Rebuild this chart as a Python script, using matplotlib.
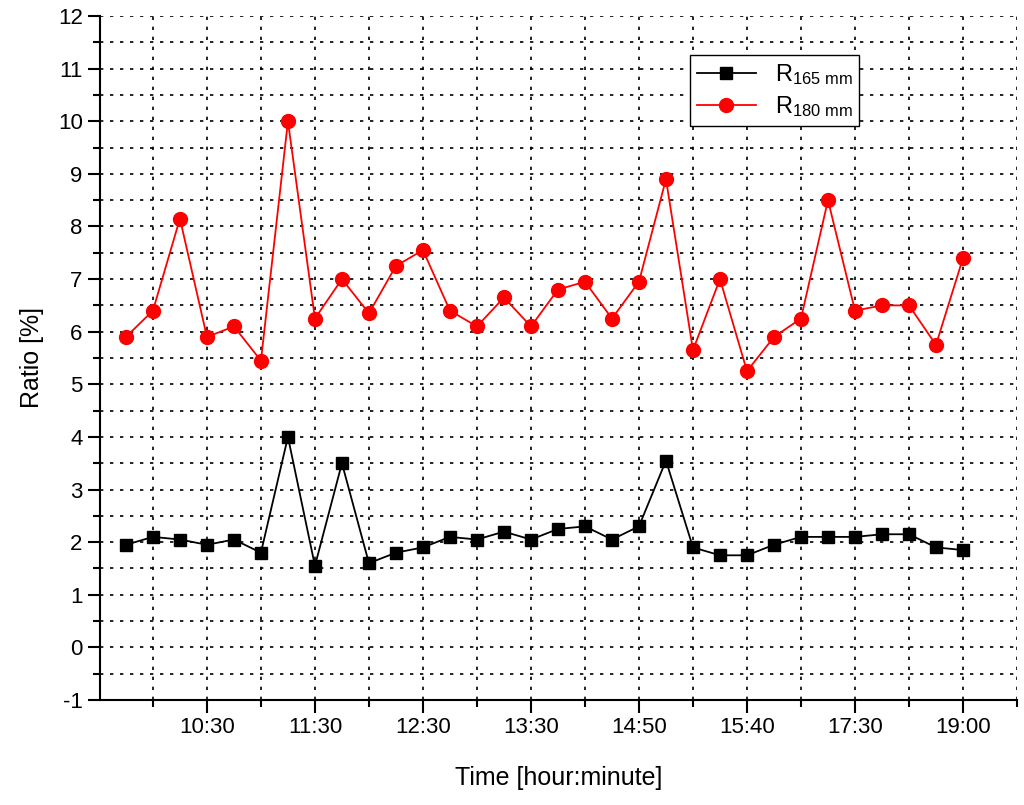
import matplotlib
matplotlib.use("Agg")
import matplotlib.pyplot as plt
from matplotlib.ticker import FixedLocator, MultipleLocator

plt.rcParams['font.family'] = ['Liberation Sans', 'DejaVu Sans']
plt.rcParams['axes.unicode_minus'] = False
plt.rcParams['mathtext.fontset'] = 'custom'
plt.rcParams['mathtext.rm'] = 'Liberation Sans'
plt.rcParams['mathtext.it'] = 'Liberation Sans'

# sample index (one every half grid cell)
idx = list(range(32))
r180 = [5.9, 6.4, 8.15, 5.9, 6.1, 5.45, 10.0, 6.25, 7.0, 6.35, 7.25, 7.55, 6.4, 6.1, 6.65, 6.1,
        6.8, 6.95, 6.25, 6.95, 8.9, 5.65, 7.0, 5.25, 5.9, 6.25, 8.5, 6.4, 6.5, 6.5, 5.75, 7.4]
r165 = [1.95, 2.1, 2.05, 1.95, 2.05, 1.8, 4.0, 1.55, 3.5, 1.6, 1.8, 1.9, 2.1, 2.05, 2.2, 2.05,
        2.25, 2.3, 2.05, 2.3, 3.55, 1.9, 1.75, 1.75, 1.95, 2.1, 2.1, 2.1, 2.15, 2.15, 1.9, 1.85]
tick_pos = [3, 7, 11, 15, 19, 23, 27, 31]
tick_labels = ['10:30', '11:30', '12:30', '13:30', '14:50', '15:40', '17:30', '19:00']

fig = plt.figure(figsize=(10.24, 8.05), dpi=100)
ax = fig.add_axes([100/1024, 1 - 700/805, 917/1024, 684/805])

ax.plot(idx, r165, '-s', color='black', ms=9, lw=1.3, label=r'R$_{165\ \mathrm{mm}}$')
ax.plot(idx, r180, '-o', color='red', ms=10, lw=1.3, label=r'R$_{180\ \mathrm{mm}}$')

ax.set_xlim(-0.96, 33)
ax.set_ylim(-1, 12)
ax.xaxis.set_major_locator(FixedLocator(tick_pos))
ax.set_xticklabels(tick_labels)
ax.xaxis.set_minor_locator(FixedLocator([1, 5, 9, 13, 17, 21, 25, 29, 33]))
ax.yaxis.set_major_locator(MultipleLocator(1))
ax.yaxis.set_minor_locator(MultipleLocator(0.5))
ax.grid(True, which='both', color='black', ls=(0, (2, 4)), lw=1.2)
ax.tick_params(which='major', length=9, width=1.5, labelsize=16, direction='out')
ax.tick_params(which='minor', length=5, width=1.5, direction='out')
for s in ['top', 'right']:
    ax.spines[s].set_visible(False)
for s in ['left', 'bottom']:
    ax.spines[s].set_linewidth(1.5)

ax.set_xlabel('Time [hour:minute]', fontsize=18, labelpad=20)
ax.set_ylabel('Ratio [%]', fontsize=18, labelpad=10)

leg = ax.legend(loc='upper left', bbox_to_anchor=(0.63, 0.96), fontsize=17, fancybox=False,
                framealpha=1, edgecolor='black', handlelength=2.5, borderpad=0.3, labelspacing=0.3)
leg.get_frame().set_linewidth(1)

fig.savefig('out.png', dpi=100)
